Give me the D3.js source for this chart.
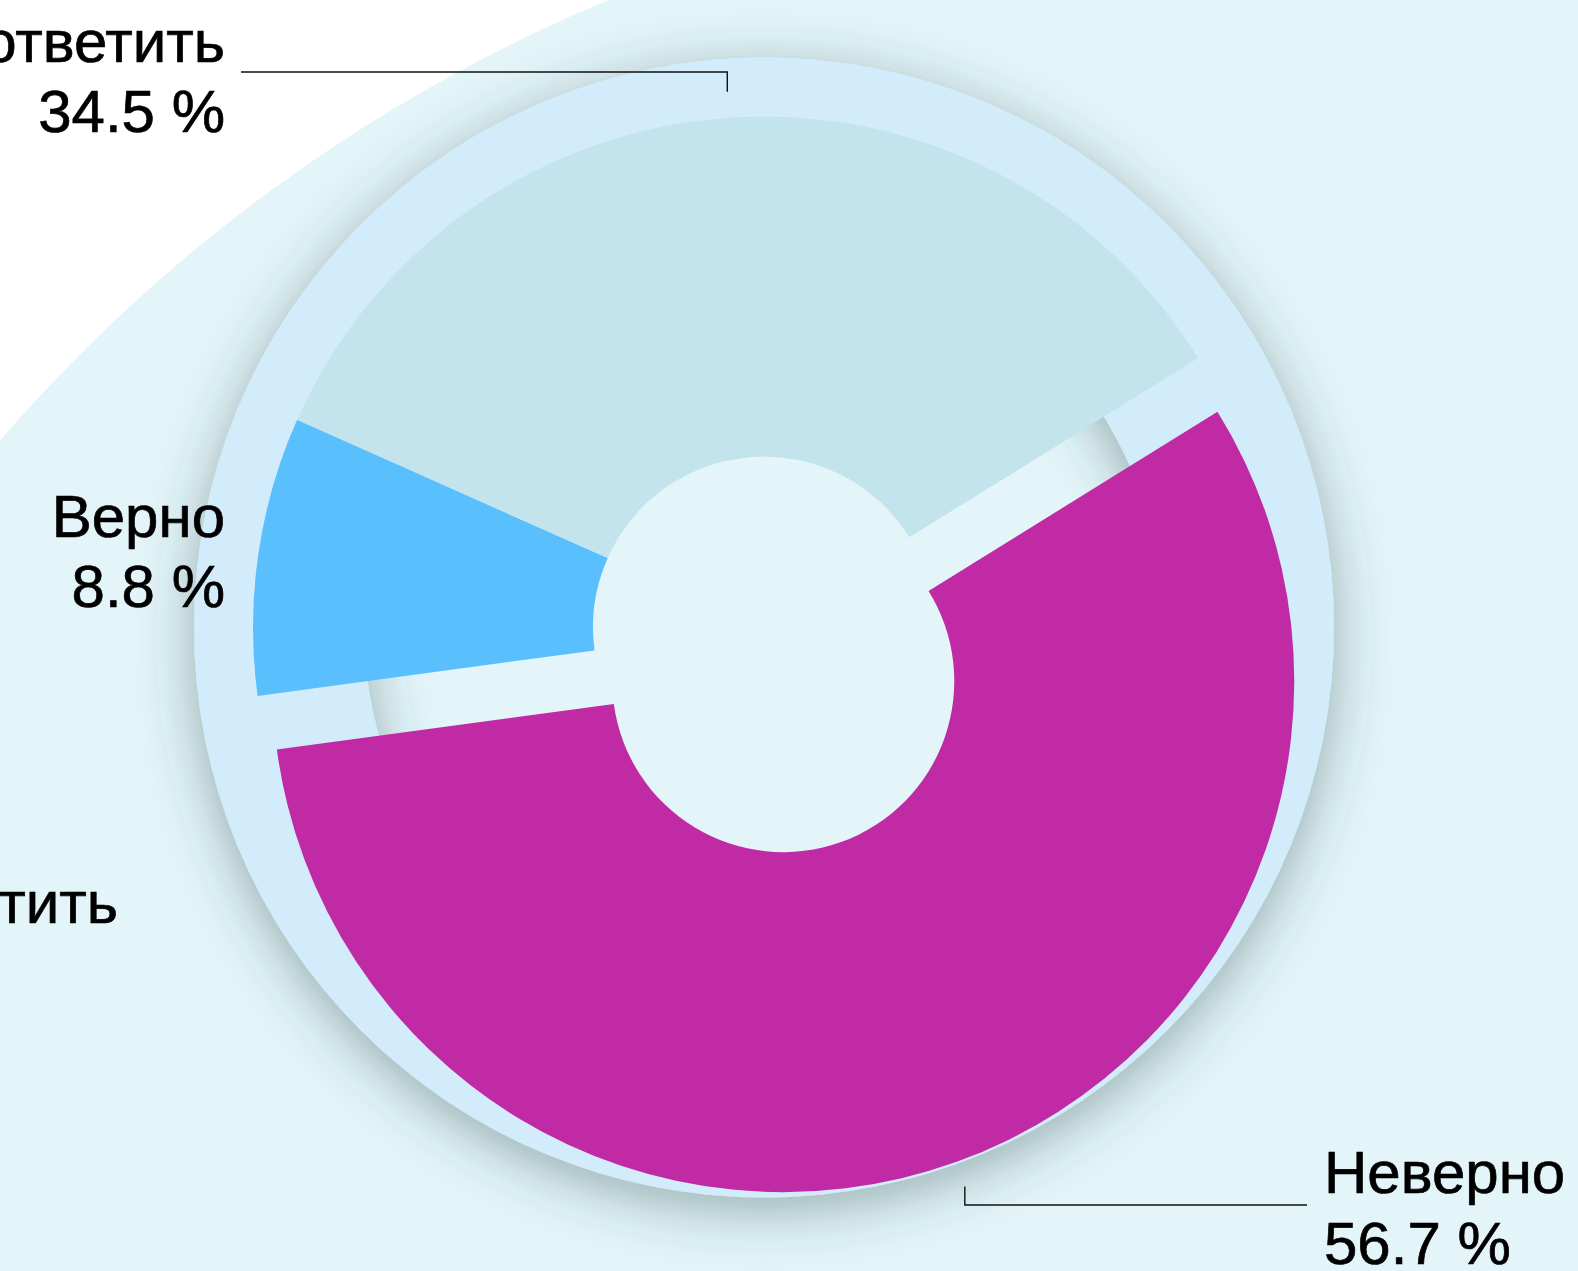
<!DOCTYPE html>
<html>
<head>
<meta charset="utf-8">
<script src="https://cdn.jsdelivr.net/npm/d3@7"></script>
<style>
  html, body { margin: 0; padding: 0; background: #ffffff; }
  svg { display: block; }
  text { font-family: "Liberation Sans", Arial, Helvetica, sans-serif; }
</style>
</head>
<body>
<div id="chart"></div>
<script>
// ---- data ----
const categories = ["Верно", "Затрудняюсь ответить", "Неверно"];
const values = [8.8, 34.5, 56.7];
const valueLabels = ["8.8 %", "34.5 %", "56.7 %"];
const sliceColors = ["#59bffd", "#c4e4ed", "#c02ba5"];
const explodeBy = [0, 0, 57];
const offscreenLabel = "Затрудняюсь ответить";

// ---- layout ----
const W = 1578, H = 1271;
const cx = 764, cy = 627.5;
const ringOuter = 570, ringInner = 400;
const donutOuter = 511, donutInner = 171;
const leaderR = 537;
const startDeg = 262.3;
const fontSize = 60;

const svg = d3.select("#chart").append("svg")
  .attr("width", W).attr("height", H);

const defs = svg.append("defs");
const f = defs.append("filter").attr("id", "shadow")
  .attr("filterUnits", "userSpaceOnUse")
  .attr("x", -400).attr("y", -400).attr("width", 800).attr("height", 800);
f.append("feGaussianBlur").attr("in", "SourceAlpha").attr("stdDeviation", 28).attr("result", "b");
f.append("feOffset").attr("in", "b").attr("dx", 0).attr("dy", 12).attr("result", "o");
f.append("feFlood").attr("flood-color", "#2a4545").attr("flood-opacity", 0.42).attr("result", "c");
f.append("feComposite").attr("in", "c").attr("in2", "o").attr("operator", "in").attr("result", "s");
const m = f.append("feMerge");
m.append("feMergeNode").attr("in", "s");
m.append("feMergeNode").attr("in", "SourceGraphic");

// background
svg.append("rect").attr("width", W).attr("height", H).attr("fill", "#ffffff");
svg.append("circle").attr("cx", 1238).attr("cy", 1510).attr("r", 1636).attr("fill", "#e3f5f9");

// ring plate
const g = svg.append("g").attr("transform", `translate(${cx},${cy})`);
f.attr("x", -ringOuter - 150).attr("y", -ringOuter - 150)
  .attr("width", 2 * ringOuter + 300).attr("height", 2 * ringOuter + 300);
g.append("path")
  .attr("d", d3.arc().innerRadius(ringInner).outerRadius(ringOuter)
    .startAngle(0).endAngle(2 * Math.PI)())
  .attr("fill", "#d2ecfc")
  .attr("filter", "url(#shadow)");

// donut
const start = startDeg * Math.PI / 180;
const pie = d3.pie().sort(null).value(d => d).startAngle(start).endAngle(start + 2 * Math.PI);
const arcs = pie(values);
const arc = d3.arc().innerRadius(donutInner).outerRadius(donutOuter);

function offsetOf(a, i) {
  const mid = (a.startAngle + a.endAngle) / 2;
  return [Math.sin(mid) * explodeBy[i], -Math.cos(mid) * explodeBy[i]];
}

g.selectAll("path.slice").data(arcs).join("path")
  .attr("class", "slice")
  .attr("d", arc)
  .attr("fill", (d, i) => sliceColors[i])
  .attr("transform", (d, i) => { const o = offsetOf(d, i); return `translate(${o[0]},${o[1]})`; });

// labels
const labelLayout = [
  { line: false, textX: 225, anchor: "end", nameY: 537, valueY: 607 },
  { line: true, lineY: 72, lineToX: 241, textX: 225, anchor: "end", nameY: 62, valueY: 132 },
  { line: true, lineY: 1205, lineToX: 1307, textX: 1324, anchor: "start", nameY: 1193, valueY: 1264 }
];

function addText(x, y, anchor, str) {
  svg.append("text").attr("x", x).attr("y", y)
    .attr("text-anchor", anchor).attr("font-size", fontSize)
    .attr("fill", "#000").attr("stroke", "#000").attr("stroke-width", 0.7)
    .text(str);
}

arcs.forEach((a, i) => {
  const L = labelLayout[i];
  const mid = (a.startAngle + a.endAngle) / 2;
  const o = offsetOf(a, i);
  const px = cx + o[0] + Math.sin(mid) * leaderR;
  const py = cy + o[1] - Math.cos(mid) * leaderR;
  if (L.line) {
    svg.append("path")
      .attr("d", d3.line()([[px, py], [px, L.lineY], [L.lineToX, L.lineY]]))
      .attr("fill", "none").attr("stroke", "#111").attr("stroke-width", 1.4);
  }
  addText(L.textX, L.nameY, L.anchor, categories[i]);
  addText(L.textX, L.valueY, L.anchor, valueLabels[i]);
});

// partially visible label from neighbouring chart
addText(118, 923, "end", offscreenLabel);
</script>
</body>
</html>
